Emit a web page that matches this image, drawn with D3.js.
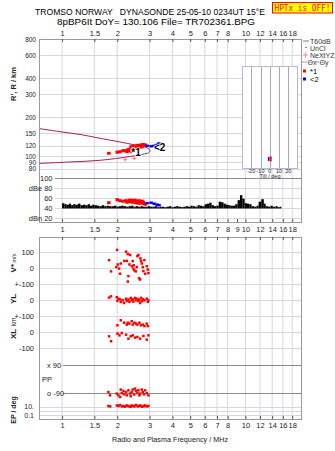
<!DOCTYPE html>
<html><head><meta charset="utf-8">
<script src="https://cdn.jsdelivr.net/npm/d3@7"></script>
<style>
html,body{margin:0;padding:0;background:#fff;}
svg{display:block;font-family:"Liberation Sans",Arial,sans-serif;}
</style></head><body>
<svg id="chart" width="335" height="451"></svg>
<script>
// ---- axis ticks ----
const freqTicks = [1, 1.5, 2, 3, 4, 5, 6, 7, 8, 10, 12, 14, 16, 18];
const freqTicksMid = [1, 1.5, 2, 3, 4, 5, 6, 7, 8, 9, 10, 12, 14, 16, 18];
const heightTicks = [800, 600, 400, 300, 200, 150, 120, 100, 90, 80];
const dbTicks = [100, 80, 60, 40, 20];
const dbTickLabels = ["100", "dBe 80", "60", "40", "dBn 20"];
const tiltTicks = [-20, -10, 0, 10, 20];

// ---- model profile (closed loop, MHz / km) ----
const profileFreq = [0.75, 0.975, 1.254, 1.612, 2.07, 2.50, 2.84, 2.98, 3.02, 2.96, 2.87, 2.35, 1.61, 1.106, 0.75];
const profileHeight = [163, 154, 146.7, 137, 128.4, 121.7, 117.5, 113, 109.5, 106, 104.6, 99.2, 92.7, 90, 87.7];

// ---- echoes, trace *1 (red) ----
const echoFreq1 = [1.80, 2.00, 2.07, 2.15, 2.23, 2.26, 2.29, 2.33, 2.35, 2.38, 2.40, 2.41, 2.44, 2.45, 2.47, 2.50, 2.53, 2.55, 2.57, 2.60, 2.63, 2.66, 2.68, 2.70, 2.73, 2.77, 2.80, 2.84];
const echoHeight1 = [105, 107, 108, 110, 110, 108, 112, 110, 113, 118, 108, 111, 115, 112, 119, 113, 117, 114, 121, 115, 120, 117, 120, 122, 118, 123, 120, 122];
const echoAmp1 = [50, 56, 54, 53, 54, 51, 52, 55, 53, 55, 52, 51, 54, 53, 52, 55, 50, 51, 53, 49, 54, 52, 49, 50, 53, 51, 48, 47];
// ---- echoes, trace <2 (blue) ----
const echoFreq2 = [2.91, 3.06, 3.18, 3.30, 3.38];
const echoHeight2 = [120, 119, 120, 122, 125];
const echoAmp2 = [49, 50, 48, 46, 45];
// trace labels
const traceLabels = ["*1", "<2"];
const traceLabelFreq = [2.53, 3.41];
const traceLabelHeight = [100, 110];
// NeXtYZ points
const nxFreq = [2.21, 2.48];
const nxHeight = [94, 96];
// tilt (deg) per trace
const tiltDeg = [1, -0.4];
const tiltHeight = [95, 95];

// ---- noise floor (MHz, dB) ----
const noiseFreq = [1.00,1.03,1.06,1.09,1.12,1.15,1.18,1.22,1.26,1.30,
  1.34,1.38,1.42,1.46,1.50,
  1.55,1.60,1.65,1.70,1.75,1.80,
  1.86,1.92,1.98,2.04,2.10,
  2.17,2.24,2.31,2.38,2.45,2.52,2.60,
  2.68,2.76,2.84,2.93,3.02,
  3.11,3.20,3.30,3.40,3.50,
  3.61,3.72,3.83,3.95,4.07,
  4.19,4.32,4.45,4.58,
  4.72,4.86,5.01,5.16,
  5.32,5.48,5.64,5.81,
  5.99,6.17,6.35,
  6.54,6.74,6.94,
  7.15,7.37,7.59,
  7.82,8.05,8.29,
  8.54,8.80,9.06,
  9.34,9.62,
  9.90,10.2,10.5,
  10.8,11.2,11.5,
  11.8,12.2,12.6,
  12.9,13.3,13.7,
  14.1,14.6,15.0,15.3];
const noiseDb = [49,47,46,48,45,47,46,48,45,46,
  45,47,44,46,45,
  44,43,45,43,44,43,
  43,44,42,43,44,
  43,42,43,44,42,43,42,
  43,42,42,43,42,
  42,43,41,42,42,
  41,42,43,41,42,
  43,42,41,42,
  43,42,44,43,
  42,45,44,43,
  47,48,50,
  45,43,44,
  52,51,48,
  46,45,44,
  44,47,55,
  65,58,
  49,48,47,
  43,42,44,
  52,57,48,
  43,42,44,
  42,43,41,42];

// ---- lower panels ----
const vFreq = [1.805,1.851,1.996,2.013,1.979,2.047,2.091,2.072,2.187,2.234,2.254,2.283,2.300,2.283,2.329,2.350,2.400,2.430,2.461,2.480,2.524,2.575,2.608,2.556,2.631,2.674,2.698,2.722,2.756,2.777,2.812,2.837,2.899,2.935,2.957,2.664,2.449];
const vVal = [51,-19,115,24,8,-2,30,-34,46,104,46,89,-49,-83,24,83,13,45,19,-13,-19,76,83,8,-62,62,46,30,8,-17,51,-34,13,-8,-30,-70,-2];
const ylFreq = [1.805,1.851,1.987,2.029,2.004,2.072,2.090,2.143,2.179,2.234,2.253,2.301,2.330,2.370,2.399,2.430,2.450,2.502,2.534,2.576,2.609,2.642,2.664,2.698,2.721,2.755,2.813,2.897,2.934,2.958];
const ylVal = [17,25,19,10,-4,6,-10,0,-17,10,-4,4,-10,15,0,6,-8,15,0,10,-4,4,-17,15,-6,6,0,10,-10,0];
const xlFreq = [2.004,2.090,2.179,2.253,2.282,2.330,2.399,2.430,2.481,2.534,2.576,2.642,2.687,2.755,2.813,2.897,2.934,1.805,1.851,2.004,2.055,2.116,2.234,2.301,2.370,2.430,2.502,2.576,2.664,2.778,2.897,2.958];
const xlVal = [44,75,60,48,60,54,69,48,60,54,48,60,44,48,39,54,39,-25,-56,-8,-19,-4,-15,-40,-25,-19,-33,-29,-40,-23,-46,-19];
const ppFreq = [1.790,1.827,1.987,2.029,2.090,2.116,2.179,2.234,2.253,2.301,2.350,2.399,2.430,2.471,2.534,2.576,2.609,2.664,2.721,2.755,2.802,2.897,2.958,2.642,2.370,2.072,2.502,2.161,2.837];
const ppVal = [-82,-103,-92,-103,-66,-88,-96,-82,-103,-71,-92,-82,-66,-98,-75,-88,-71,-92,-66,-82,-96,-88,-103,-103,-109,-114,-60,-75,-71];
const epFreq = [1.79,1.83,1.99,2.03,2.07,2.12,2.16,2.20,2.25,2.28,2.33,2.37,2.40,2.45,2.48,2.53,2.58,2.61,2.66,2.70,2.74,2.80,2.84,2.90,2.96];
const epVal = [15,12,20,15,26,12,15,10,20,15,12,9,20,15,12,26,15,12,20,15,10,15,20,12,15];

// ---- texts ----
const title1 = "TROMSO NORWAY   DYNASONDE 25-05-10 0234UT 15°E";
const title2 = "8pBP6It DoY= 130.106 File= TR702361.BPG";
const xTitle = "Radio and Plasma Frequency / MHz";

// ---- layout ----
const L = 39.5, R = 301.5;
const topY0 = 39, topY1 = 222, lowY0 = 237, lowY1 = 419;
const RED = "#ff0000", BLUE = "#0000ff", PROF = "#a8204c", PINK = "#ff80a0";
const GRID = "#d6d6e2", DARK = "#8a8a8a", FRAME = "#9a9a9a", TXT = "#222";

const svg = d3.select("#chart");
svg.append("rect").attr("width", 335).attr("height", 451).attr("fill", "#fff");

const x = d3.scaleLog().domain([0.758, 20.1]).range([40, 301]);
const yH = d3.scaleLog().domain([800, 80]).range([39, 168.6]);
const yDb = d3.scaleLinear().domain([100, 20]).range([177.7, 217.7]);
const yV = d3.scaleLinear().domain([100, -100]).range([252.3, 284.3]);
const yYL = d3.scaleLinear().domain([100, -100]).range([284.3, 316.3]);
const yXL = d3.scaleLinear().domain([100, -100]).range([316.3, 348.3]);
const yPP = d3.scaleLinear().domain([90, -90]).range([365.3, 393.3]);
const yEP = d3.scaleLog().domain([10, 0.1]).range([406.7, 415]);
const xTilt = d3.scaleLinear().domain([-30, 30]).range([242, 297.5]);

function hline(g, y, x0, x1, c, w) {
  g.append("line").attr("x1", x0).attr("x2", x1).attr("y1", y).attr("y2", y)
    .attr("stroke", c).attr("stroke-width", w || 1);
}
function styleAxis(g, size) {
  g.select(".domain").remove();
  g.attr("font-family", '"Liberation Sans", Arial, sans-serif').attr("font-size", size || 7.5);
  g.selectAll("text").attr("fill", TXT);
  g.selectAll(".tick line").attr("stroke", "#555");
}

// ---- grids ----
const grid = svg.append("g");
freqTicks.forEach(f => {
  grid.append("line").attr("x1", x(f)).attr("x2", x(f)).attr("y1", topY0).attr("y2", topY1).attr("stroke", GRID);
  grid.append("line").attr("x1", x(f)).attr("x2", x(f)).attr("y1", lowY0).attr("y2", lowY1).attr("stroke", GRID);
});
heightTicks.forEach(h => hline(grid, Math.round(yH(h)) + 0.5, 40, 301, GRID));
dbTicks.forEach(d => hline(grid, Math.round(yDb(d)) + 0.5, 55, 301, d === 100 ? DARK : GRID));
[yV(100), yV(0), yV(-100), yYL(0), yYL(-100), yXL(0), yXL(-100), yEP(10), yEP(1), yEP(0.1)]
  .forEach(y => hline(grid, Math.round(y) + 0.5, 40, 301, GRID));
[yPP(90), yPP(-90)].forEach(y => hline(grid, Math.round(y) + 0.5, 63, 301, DARK));

// ---- frames ----
const frame = svg.append("g").attr("fill", "none").attr("stroke", FRAME);
frame.append("rect").attr("x", L).attr("y", topY0 + 0.5).attr("width", R - L).attr("height", topY1 - topY0);
frame.append("rect").attr("x", L).attr("y", lowY0 + 0.5).attr("width", R - L).attr("height", lowY1 - lowY0);

// ---- frequency axes ----
const fmtF = d => String(d);
styleAxis(svg.append("g").attr("transform", `translate(0,${topY0})`)
  .call(d3.axisTop(x).tickValues(freqTicks).tickFormat(fmtF).tickSizeInner(-3).tickSizeOuter(0).tickPadding(3)));
styleAxis(svg.append("g").attr("transform", `translate(0,${topY1})`)
  .call(d3.axisBottom(x).tickValues(freqTicksMid).tickFormat(fmtF).tickSizeInner(-3).tickSizeOuter(0).tickPadding(5)));
styleAxis(svg.append("g").attr("transform", `translate(0,${lowY0})`)
  .call(d3.axisTop(x).tickValues(freqTicks).tickFormat("").tickSizeInner(-3).tickSizeOuter(0)));
styleAxis(svg.append("g").attr("transform", `translate(0,${lowY1})`)
  .call(d3.axisBottom(x).tickValues(freqTicks).tickFormat(fmtF).tickSizeInner(-3).tickSizeOuter(0).tickPadding(4)));

// ---- vertical axes ----
styleAxis(svg.append("g").attr("transform", "translate(40,0)")
  .call(d3.axisLeft(yH).tickValues(heightTicks).tickFormat(d => String(d)).tickSize(0).tickPadding(4)), 6.5);
styleAxis(svg.append("g").attr("transform", "translate(52.5,0)")
  .call(d3.axisLeft(yDb).tickValues(dbTicks).tickFormat((d, i) => dbTickLabels[i]).tickSize(0).tickPadding(0)));
styleAxis(svg.append("g").attr("transform", "translate(40,0)")
  .call(d3.axisLeft(yV).tickValues([100, 0, -100]).tickFormat(d => d === -100 ? "+-100" : String(d)).tickSize(0).tickPadding(6)));
styleAxis(svg.append("g").attr("transform", "translate(40,0)")
  .call(d3.axisLeft(yYL).tickValues([0, -100]).tickFormat(d => d === -100 ? "+-100" : String(d)).tickSize(0).tickPadding(6)));
styleAxis(svg.append("g").attr("transform", "translate(40,0)")
  .call(d3.axisLeft(yXL).tickValues([0, -100]).tickFormat(d => String(d)).tickSize(0).tickPadding(6)));
styleAxis(svg.append("g").attr("transform", "translate(40,0)")
  .call(d3.axisRight(yPP).tickValues([90, -90]).tickFormat(d => d > 0 ? "x 90" : "o -90").tickSize(0).tickPadding(7)));
styleAxis(svg.append("g").attr("transform", "translate(40,0)")
  .call(d3.axisLeft(yEP).tickValues([10, 0.1]).tickFormat(d => d === 10 ? "10." : "0.1").tickSize(0).tickPadding(6)), 7);

// ---- axis titles ----
function vtext(tx, ty, s, size, bold) {
  svg.append("text").attr("transform", `translate(${tx},${ty}) rotate(-90)`)
    .attr("text-anchor", "middle").attr("font-size", size).attr("font-weight", bold ? "bold" : "normal")
    .attr("fill", TXT).text(s);
}
vtext(16, 84, "R', R / km", 7.5, true);
const vs = svg.append("text").attr("transform", "translate(16,263) rotate(-90)")
  .attr("text-anchor", "middle").attr("fill", TXT).attr("font-weight", "bold");
vs.append("tspan").attr("font-size", 8).text("V*");
vs.append("tspan").attr("font-size", 5.5).attr("dx", 1.5).attr("font-weight", "normal").text("m/s");
vtext(16, 299, "YL", 8, true);
vtext(16, 322, "km", 6.5, false);
vtext(16, 334, "XL", 8, true);
svg.append("text").attr("x", 42).attr("y", 382).attr("font-size", 7.5).attr("fill", TXT).text("PP");
vtext(16, 410, "EP / deg", 7, true);
svg.append("text").attr("x", 170).attr("y", 441.5).attr("text-anchor", "middle")
  .attr("font-size", 7.5).attr("fill", TXT).attr("textLength", 116).attr("lengthAdjust", "spacingAndGlyphs").text(xTitle);

// ---- titles ----
svg.append("text").attr("x", 35).attr("y", 14.5).attr("font-size", 8.8).attr("fill", "#000")
  .attr("textLength", 230).attr("lengthAdjust", "spacingAndGlyphs").style("white-space", "pre").text(title1);
svg.append("text").attr("x", 57).attr("y", 24.5).attr("font-size", 8.8).attr("fill", "#000")
  .attr("textLength", 198).attr("lengthAdjust", "spacingAndGlyphs").text(title2);
svg.append("rect").attr("x", 272.5).attr("y", 2.5).attr("width", 60).attr("height", 10.5)
  .attr("fill", "#ffff00").attr("stroke", "#ff0000");
svg.append("text").attr("x", 302.5).attr("y", 10.8).attr("text-anchor", "middle").attr("font-size", 8.5)
  .attr("font-family", '"DejaVu Sans Mono", monospace').attr("fill", "#ff0000")
  .attr("textLength", 56).attr("lengthAdjust", "spacingAndGlyphs").text("HPTx is OFF!");

// ---- tilt inset ----
const inset = svg.append("g");
inset.append("rect").attr("x", 242.5).attr("y", 66.5).attr("width", 55).attr("height", 102)
  .attr("fill", "#fff").attr("stroke", "#b8b8cc");
tiltTicks.forEach(t => {
  inset.append("line").attr("x1", Math.round(xTilt(t)) + 0.5).attr("x2", Math.round(xTilt(t)) + 0.5)
    .attr("y1", 67).attr("y2", 168).attr("stroke", "#a8a8b8");
  inset.append("text").attr("x", xTilt(t)).attr("y", 173).attr("text-anchor", "middle")
    .attr("font-size", 5.5).attr("fill", TXT).text(String(t));
});
inset.append("text").attr("x", 270).attr("y", 178).attr("text-anchor", "middle")
  .attr("font-size", 5.5).attr("fill", TXT).text("Tilt / deg");
inset.append("rect").attr("x", xTilt(tiltDeg[1]) - 1.5).attr("y", yH(tiltHeight[1]) - 2)
  .attr("width", 1.5).attr("height", 4).attr("fill", BLUE);
inset.append("rect").attr("x", xTilt(tiltDeg[0]) - 1).attr("y", yH(tiltHeight[0]) - 2.5)
  .attr("width", 2).attr("height", 5).attr("fill", RED);

// ---- top panel: profile + echoes ----
svg.append("clipPath").attr("id", "clipTop").append("rect")
  .attr("x", 40).attr("y", 39).attr("width", 261).attr("height", 134);
const topG = svg.append("g").attr("clip-path", "url(#clipTop)");
const prof = d3.zip(profileFreq, profileHeight);
topG.append("path").datum(prof)
  .attr("d", d3.line().x(d => x(d[0])).y(d => yH(d[1])).curve(d3.curveCatmullRom.alpha(0.5)))
  .attr("fill", "none").attr("stroke", PROF).attr("stroke-width", 1);

function squares(g, fs, vs, ys, color, w, h) {
  g.selectAll(null).data(d3.zip(fs, vs)).join("rect")
    .attr("x", d => x(d[0]) - w / 2).attr("y", d => ys(d[1]) - h / 2)
    .attr("width", w).attr("height", h).attr("fill", color);
}
squares(topG, echoFreq1, echoHeight1, yH, RED, 3.5, 3);
squares(topG, echoFreq2, echoHeight2, yH, BLUE, 3.5, 2.5);

// NeXtYZ markers
nxFreq.forEach((f, i) => {
  const cx = x(f), cy = yH(nxHeight[i]);
  topG.append("line").attr("x1", cx - 2).attr("x2", cx + 2).attr("y1", cy).attr("y2", cy).attr("stroke", PINK).attr("stroke-width", 1.2);
  topG.append("line").attr("x1", cx).attr("x2", cx).attr("y1", cy - 2).attr("y2", cy + 2).attr("stroke", PINK).attr("stroke-width", 1.2);
});
traceLabels.forEach((s, i) => {
  topG.append("text").attr("x", x(traceLabelFreq[i])).attr("y", yH(traceLabelHeight[i]))
    .attr("text-anchor", "middle").attr("font-size", 10).attr("font-weight", "bold")
    .attr("fill", "#000").attr("stroke", "#fff").attr("stroke-width", 1.5).attr("paint-order", "stroke")
    .text(s);
});

// ---- amplitude panel ----
const ampG = svg.append("g");
ampG.selectAll(null).data(d3.range(noiseFreq.length)).join("rect")
  .attr("x", i => x(noiseFreq[i]))
  .attr("width", i => i < noiseFreq.length - 1 ? Math.max(1, x(noiseFreq[i + 1]) - x(noiseFreq[i])) : 2)
  .attr("y", i => yDb(noiseDb[i]))
  .attr("height", i => yDb(38.5) - yDb(noiseDb[i]))
  .attr("fill", "#000");
squares(ampG, echoFreq1, echoAmp1, yDb, RED, 3.5, 3);
squares(ampG, echoFreq2, echoAmp2, yDb, BLUE, 3.5, 2.5);

// ---- lower panels ----
const lowG = svg.append("g");
squares(lowG, vFreq, vVal, yV, RED, 2.5, 2.5);
squares(lowG, ylFreq, ylVal, yYL, RED, 2.5, 2.5);
squares(lowG, xlFreq, xlVal, yXL, RED, 2.5, 2.5);
squares(lowG, ppFreq, ppVal, yPP, RED, 2.5, 2.5);
squares(lowG, epFreq, epVal, yEP, RED, 2.5, 2.5);

// ---- legend ----
const lg = svg.append("g").attr("font-size", 7).attr("fill", "#333");
lg.append("line").attr("x1", 303).attr("x2", 309).attr("y1", 41).attr("y2", 41).attr("stroke", "#aaa").attr("stroke-width", 1.5);
lg.append("text").attr("x", 310).attr("y", 43.5).text("T60dB");
lg.append("rect").attr("x", 305.5).attr("y", 47).attr("width", 1).attr("height", 1).attr("fill", "#000");
lg.append("text").attr("x", 310).attr("y", 50.5).text("UnCl");
lg.append("line").attr("x1", 303).attr("x2", 308).attr("y1", 55).attr("y2", 55).attr("stroke", PINK);
lg.append("line").attr("x1", 305.5).attr("x2", 305.5).attr("y1", 52.5).attr("y2", 57.5).attr("stroke", PINK);
lg.append("text").attr("x", 310).attr("y", 57.5).text("NeXtYZ");
lg.append("line").attr("x1", 302).attr("x2", 307).attr("y1", 62).attr("y2", 62).attr("stroke", PINK);
lg.append("text").attr("x", 307.5).attr("y", 64.5).text("Θx");
lg.append("line").attr("x1", 315).attr("x2", 319).attr("y1", 62).attr("y2", 62).attr("stroke", "#8080ff");
lg.append("text").attr("x", 319.5).attr("y", 64.5).text("Θy");
lg.append("rect").attr("x", 303).attr("y", 69.5).attr("width", 3).attr("height", 3).attr("fill", RED);
lg.append("text").attr("x", 310).attr("y", 73.5).attr("font-size", 7.5).attr("fill", "#000").text("*1");
lg.append("rect").attr("x", 303).attr("y", 77.5).attr("width", 3).attr("height", 3).attr("fill", BLUE);
lg.append("text").attr("x", 310).attr("y", 82).attr("font-size", 7.5).attr("fill", "#000").text("<2");
</script></body></html>
